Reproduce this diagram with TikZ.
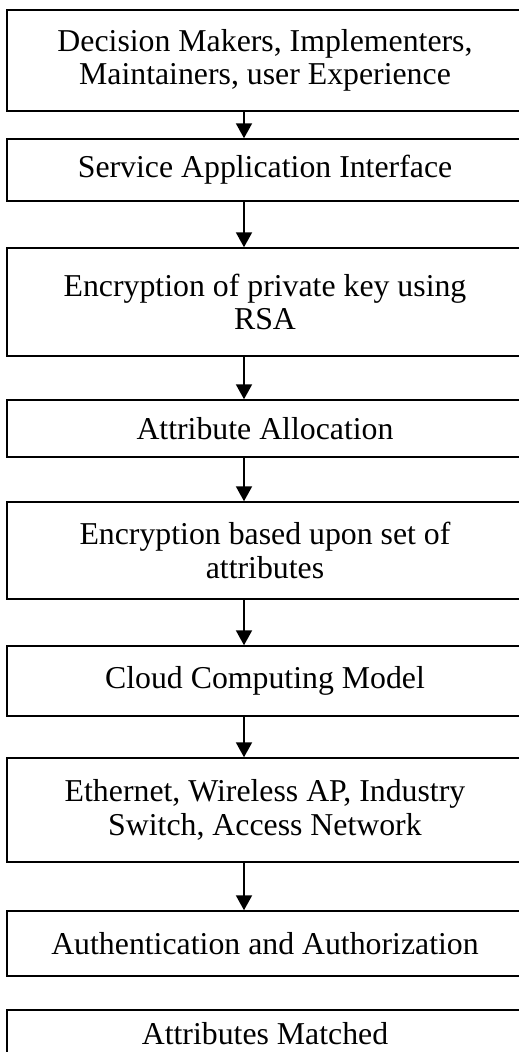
\documentclass[tikz,border=0pt]{standalone}
\usepackage{fontspec}
\setmainfont{Liberation Serif}
\usetikzlibrary{arrows.meta}
\tikzset{
  txt/.style={inner sep=0pt, align=center, font=\fontsize{31.8}{33.3}\selectfont},
  box/.style={txt, draw=black, line width=1.5pt, rectangle, minimum width=516pt},
  arr/.style={line width=2pt, -{Triangle[width=16pt,length=15pt]}}
}
\begin{document}
\begin{tikzpicture}[x=1pt,y=1pt]
\useasboundingbox (0,0) rectangle (519,-1052);
\clip (0,0) rectangle (519,-1052);
\node[box, minimum height=101pt] (b1) at (265,-60.5) {Decision Makers, Implementers,\\Maintainers, user Experience};
\node[box, minimum height=62pt] (b2) at (265,-170) {Service Application Interface};
\node[box, minimum height=108pt] (b3) at (265,-302) {Encryption of private key using\\RSA};
\node[box, minimum height=57pt] (b4) at (265,-428.5) {Attribute Allocation};
\node[box, minimum height=97pt] (b5) at (265,-550.5) {Encryption based upon set of\\attributes};
\node[box, minimum height=70pt] (b6) at (265,-681) {Cloud Computing Model};
\node[box, minimum height=104pt] (b7) at (265,-810) {Ethernet, Wireless AP, Industry\\Switch, Access Network};
\node[box, minimum height=65pt] (b8) at (265,-943.5) {Authentication and Authorization};
\node[box, minimum height=64pt] (b9) at (265,-1042) {};
\node[txt, text height=22pt, text depth=0pt] (t9) at (265,-1033) {Attributes Matched};
\coordinate (ax) at (244,0);
\draw[arr] (b1.south -| ax) -- (b2.north -| ax);
\draw[arr] (b2.south -| ax) -- (b3.north -| ax);
\draw[arr] (b3.south -| ax) -- (b4.north -| ax);
\draw[arr] (b4.south -| ax) -- (b5.north -| ax);
\draw[arr] (b5.south -| ax) -- (b6.north -| ax);
\draw[arr] (b6.south -| ax) -- (b7.north -| ax);
\draw[arr] (b7.south -| ax) -- (b8.north -| ax);
\end{tikzpicture}
\end{document}
